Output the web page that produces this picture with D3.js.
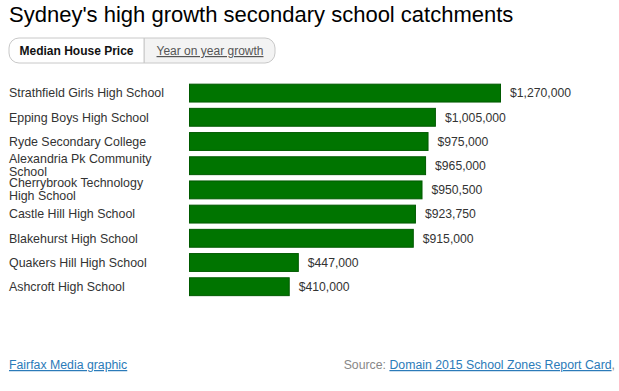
<!DOCTYPE html>
<html>
<head>
<meta charset="utf-8">
<script src="https://cdn.jsdelivr.net/npm/d3@7"></script>
<style>
  body { margin: 0; background: #fff; font-family: Arial, "Liberation Sans", sans-serif; }
</style>
</head>
<body>
<div id="chart-container"></div>
<script>
// chart data
const schools = [
  "Strathfield Girls High School",
  "Epping Boys High School",
  "Ryde Secondary College",
  "Alexandria Pk Community School",
  "Cherrybrook Technology High School",
  "Castle Hill High School",
  "Blakehurst High School",
  "Quakers Hill High School",
  "Ashcroft High School"
]
const medianPrice = [1270000, 1005000, 975000, 965000, 950500, 923750, 915000, 447000, 410000]
const tabLabels = ["Median House Price", "Year on year growth"]

const W = 619, H = 391
const margin = { top: 81, left: 189 }

const svg = d3.select("#chart-container")
  .append("svg")
  .attr("width", W)
  .attr("height", H)
  .style("font-family", "Arial, 'Liberation Sans', sans-serif")

// title
svg.append("text")
  .attr("x", 9)
  .attr("y", 22)
  .style("font-size", "22px")
  .attr("fill", "#000")
  .text("Sydney's high growth secondary school catchments")

// tabs
const tabs = svg.append("g")
tabs.append("path")
  .attr("d", "M144,38 H265 A10,10 0 0 1 275,48 V53 A10,10 0 0 1 265,63 H144 Z")
  .attr("fill", "#f3f3f3")
  .attr("stroke", "#c8c8c8")
tabs.append("path")
  .attr("d", "M144,38 H19 A10,10 0 0 0 9,48 V53 A10,10 0 0 0 19,63 H144 Z")
  .attr("fill", "#fff")
  .attr("stroke", "#c8c8c8")
tabs.append("text")
  .attr("x", 76.5).attr("y", 55)
  .attr("text-anchor", "middle")
  .style("font-size", "12px")
  .style("font-weight", "bold")
  .attr("fill", "#111")
  .text(tabLabels[0])
tabs.append("text")
  .attr("x", 210).attr("y", 55)
  .attr("text-anchor", "middle")
  .style("font-size", "12px")
  .style("text-decoration", "underline")
  .attr("fill", "#555")
  .text(tabLabels[1])

// scales
const x = d3.scaleLinear()
  .domain([0, d3.max(medianPrice)])
  .range([0, 312])

const y = d3.scaleBand()
  .domain(schools)
  .range([0, 24.2 * schools.length])
  .paddingInner(0.22)
  .paddingOuter(0.11)

const g = svg.append("g")
  .attr("transform", `translate(${margin.left},${margin.top})`)

const rows = schools.map((s, i) => ({ school: s, value: medianPrice[i] }))

g.selectAll(".bar")
  .data(rows)
  .enter().append("rect")
  .attr("class", "bar")
  .attr("x", 0.5)
  .attr("y", d => y(d.school) + 0.5)
  .attr("width", d => x(d.value) - 1)
  .attr("height", y.bandwidth() - 1)
  .attr("fill", "#007400")
  .attr("stroke", "#005a00")

const fmt = d3.format("$,")
g.selectAll(".value")
  .data(rows)
  .enter().append("text")
  .attr("class", "value")
  .attr("x", d => x(d.value) + 9)
  .attr("y", d => y(d.school) + y.bandwidth() / 2)
  .attr("dy", "0.35em")
  .style("font-size", "12.2px")
  .attr("fill", "#333")
  .text(d => fmt(d.value))

// school labels, wrapped when too long
const labels = svg.append("g")
  .attr("transform", `translate(9,${margin.top})`)

rows.forEach(d => {
  const t = labels.append("text")
    .style("font-size", "12.4px")
    .attr("fill", "#333")
  const words = d.school.split(" ")
  let lines = [], line = []
  const probe = t.append("tspan")
  words.forEach(w => {
    line.push(w)
    probe.text(line.join(" "))
    if (probe.node().getComputedTextLength() > 158 && line.length > 1) {
      line.pop()
      lines.push(line.join(" "))
      line = [w]
    }
  })
  lines.push(line.join(" "))
  probe.remove()
  const cy = y(d.school) + y.bandwidth() / 2
  const lh = 13
  lines.forEach((l, i) => {
    t.append("tspan")
      .attr("x", 0)
      .attr("y", cy + (i - (lines.length - 1) / 2) * lh - (lines.length > 1 ? 0.5 : 0))
      .attr("dy", "0.35em")
      .text(l)
  })
})

// footer
svg.append("text")
  .attr("x", 9).attr("y", 369)
  .style("font-size", "12.3px")
  .style("text-decoration", "underline")
  .attr("fill", "#2b7bb9")
  .text("Fairfax Media graphic")

const src = svg.append("text")
  .attr("x", 615).attr("y", 369)
  .attr("text-anchor", "end")
  .style("font-size", "12.3px")
src.append("tspan").attr("fill", "#888").text("Source: ")
src.append("tspan").attr("fill", "#2b7bb9").style("text-decoration", "underline").text("Domain 2015 School Zones Report Card")
src.append("tspan").attr("fill", "#888").text(",")
</script>
</body>
</html>
